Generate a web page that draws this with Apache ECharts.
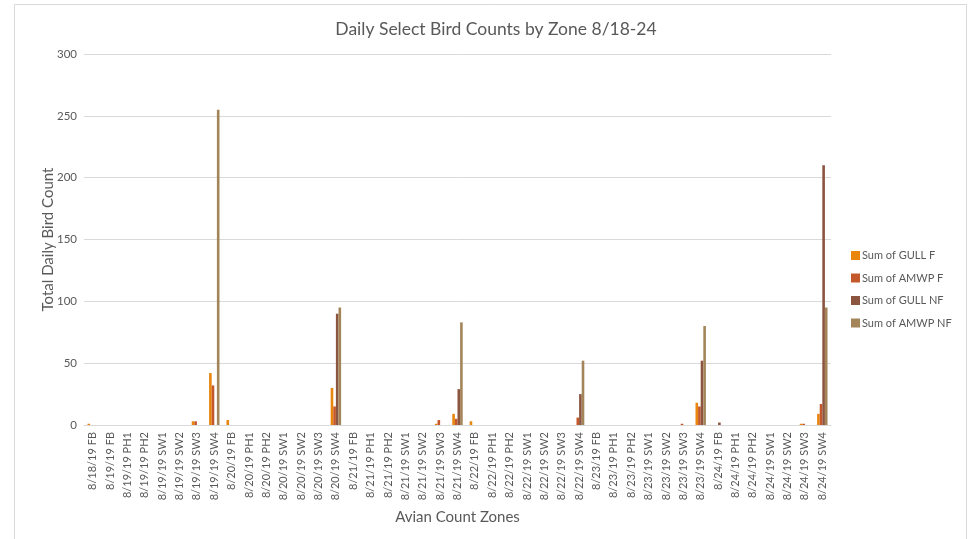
<!DOCTYPE html>
<html>
<head>
<meta charset="utf-8">
<script src="https://cdn.jsdelivr.net/npm/echarts@6/dist/echarts.min.js"></script>
<style>html,body{margin:0;padding:0;background:#fff;}#c{width:976px;height:539px;}</style>
</head>
<body>
<div id="c"></div>
<script>
const categories = [
  '8/18/19 FB',
  '8/19/19 FB','8/19/19 PH1','8/19/19 PH2','8/19/19 SW1','8/19/19 SW2','8/19/19 SW3','8/19/19 SW4',
  '8/20/19 FB','8/20/19 PH1','8/20/19 PH2','8/20/19 SW1','8/20/19 SW2','8/20/19 SW3','8/20/19 SW4',
  '8/21/19 FB','8/21/19 PH1','8/21/19 PH2','8/21/19 SW1','8/21/19 SW2','8/21/19 SW3','8/21/19 SW4',
  '8/22/19 FB','8/22/19 PH1','8/22/19 PH2','8/22/19 SW1','8/22/19 SW2','8/22/19 SW3','8/22/19 SW4',
  '8/23/19 FB','8/23/19 PH1','8/23/19 PH2','8/23/19 SW1','8/23/19 SW2','8/23/19 SW3','8/23/19 SW4',
  '8/24/19 FB','8/24/19 PH1','8/24/19 PH2','8/24/19 SW1','8/24/19 SW2','8/24/19 SW3','8/24/19 SW4'
];
const gullF  = [1, 0,0,0,0,0,3,42, 4,0,0,0,0,0,30, 0,0,0,0,0,1,9, 3,0,0,0,0,0,0, 0,0,0,0,0,0,18, 0,0,0,0,0,1,9];
const amwpF  = [0, 0,0,0,0,0,3,32, 0,0,0,0,0,0,15, 0,0,0,0,0,4,5, 0,0,0,0,0,0,6, 0,0,0,0,0,1,15, 0,0,0,0,0,1,17];
const gullNF = [0, 0,0,0,0,0,0,0, 0,0,0,0,0,0,90, 0,0,0,0,0,0,29, 0,0,0,0,0,0,25, 0,0,0,0,0,0,52, 2,0,0,0,0,0,210];
const amwpNF = [0, 0,0,0,0,0,0,255, 0,0,0,0,0,0,95, 0,0,0,0,0,0,83, 0,0,0,0,0,0,52, 0,0,0,0,0,0,80, 0,0,0,0,0,0,95];
const seriesNames = ['Sum of GULL F','Sum of AMWP F','Sum of GULL NF','Sum of AMWP NF'];
const colors = ['#E8860E','#C5582B','#8B5540','#A4855A'];
const yTicks = [0,50,100,150,200,250,300];

const font = 'Lato, "Open Sans", sans-serif';
const chart = echarts.init(document.getElementById('c'));
const dataArr = [gullF, amwpF, gullNF, amwpNF];
chart.setOption({
  animation: false,
  color: colors,
  textStyle: {fontFamily: font},
  graphic: [{type:'rect', shape:{x:14.5,y:4.5,width:952,height:600}, style:{fill:'none', stroke:'#d9d9d9', lineWidth:1}, silent:true}],
  title: {text: 'Daily Select Bird Counts by Zone 8/18-24', left: 491, top: 15, textAlign: 'center',
    textStyle: {fontSize: 17.5, fontWeight: 'normal', color: '#595959', fontFamily: font}},
  legend: {orient: 'vertical', left: 846, top: 245, itemWidth: 9, itemHeight: 9, itemGap: 11.5,
    icon: 'rect', data: seriesNames, textStyle: {fontSize: 11, color: '#595959', fontFamily: font, padding:[0,0,0,-3]}},
  grid: {left: 84, right: 145, top: 54, bottom: 114, containLabel: false},
  xAxis: {type: 'category', data: categories, name: 'Avian Count Zones', nameLocation: 'middle', nameGap: 85,
    nameMoveOverlap: false,
    nameTextStyle: {fontSize: 15, color: '#595959', fontFamily: font},
    axisLine: {lineStyle: {color: '#d9d9d9'}}, axisTick: {show: false},
    axisLabel: {rotate: 90, interval: 0, fontSize: 11, color: '#595959', margin: 7, fontFamily: font}},
  yAxis: {type: 'value', min: 0, max: 300, interval: 50, name: 'Total Daily Bird Count', nameLocation: 'middle', nameGap: 28,
    nameMoveOverlap: false,
    nameTextStyle: {fontSize: 15, color: '#595959', fontFamily: font},
    axisLine: {show: false}, axisTick: {show: false},
    axisLabel: {fontSize: 11.5, color: '#595959', margin: 7, fontFamily: font,
      formatter: v => yTicks.includes(v) ? String(v) : ''},
    splitLine: {lineStyle: {color: '#d9d9d9'}}},
  series: seriesNames.map((n, i) => ({name: n, type: 'bar', data: dataArr[i], barGap: '0%', barCategoryGap: '40%'}))
});
</script>
</body>
</html>
